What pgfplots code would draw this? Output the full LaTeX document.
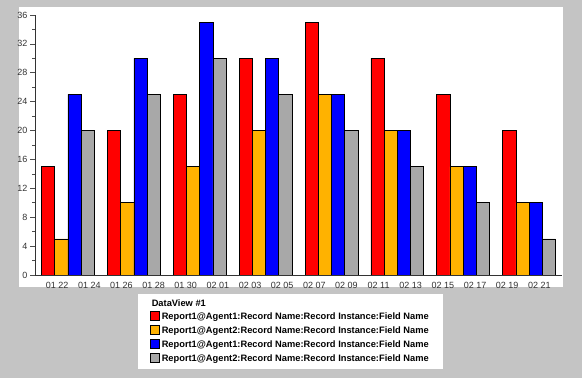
\documentclass[border=0pt]{standalone}
\usepackage{pgfplots}
\pgfplotsset{compat=1.18}
\usepackage{fontspec}
\setmainfont{Liberation Sans}
\definecolor{bg}{RGB}{196,196,196}
\definecolor{cred}{RGB}{255,0,0}
\definecolor{corange}{RGB}{255,178,0}
\definecolor{cblue}{RGB}{0,0,255}
\definecolor{cgray}{RGB}{168,168,168}
\begin{document}
\begin{tikzpicture}
\fill[bg] (0,0) rectangle (582pt,378pt);
\fill[white] (19pt,91pt) rectangle (563pt,371pt);
\begin{axis}[
  at={(35pt,103pt)}, anchor=south west,
  scale only axis, width=527pt, height=260pt,
  xmin=-0.5, xmax=7.5, ymin=0, ymax=36,
  ybar=0pt, bar width=13.2pt,
  axis lines*=left,
  axis line style={black!80, line width=0.7pt},
  ytick={0,4,...,36}, minor ytick={2,6,...,34},
  major tick length=5pt, minor tick length=3pt,
  ytick style={black!70, line width=0.6pt},
  tick align=outside,
  xtick={-0.164,0.324,0.812,1.300,1.788,2.276,2.764,3.252,3.740,4.228,4.716,5.204,5.692,6.180,6.668,7.156},
  xticklabels={01 22,01 24,01 26,01 28,01 30,02 01,02 03,02 05,02 07,02 09,02 11,02 13,02 15,02 17,02 19,02 21},
  xtick style={draw=none},
  ticklabel style={font=\fontsize{9}{10}\selectfont, black!80},
  xticklabel style={yshift=1pt},
  yticklabel style={xshift=1pt},
  /pgf/number format/assume math mode=true,
  legend style={at={(0.1954,-0.0704)}, anchor=north west, fill=white, draw=none,
    font=\fontsize{9.3}{10}\selectfont\bfseries, inner xsep=12pt, inner ysep=3.8pt,
    row sep=1.6pt, cells={anchor=west}},
  legend image code/.code={\draw[#1,/tikz/.cd,draw=black,line width=0.6pt] (0pt,-3.2pt) rectangle (9pt,5.6pt);},
]
\addlegendimage{empty legend}
\addlegendentry{\hspace{-10pt}DataView \#1}
\addplot[fill=cred, draw=black, line width=0.6pt] coordinates {(0,15) (1,20) (2,25) (3,30) (4,35) (5,30) (6,25) (7,20)};
\addlegendentry{Report1@Agent1:Record Name:Record Instance:Field Name}
\addplot[fill=corange, draw=black, line width=0.6pt] coordinates {(0,5) (1,10) (2,15) (3,20) (4,25) (5,20) (6,15) (7,10)};
\addlegendentry{Report1@Agent2:Record Name:Record Instance:Field Name}
\addplot[fill=cblue, draw=black, line width=0.6pt] coordinates {(0,25) (1,30) (2,35) (3,30) (4,25) (5,20) (6,15) (7,10)};
\addlegendentry{Report1@Agent1:Record Name:Record Instance:Field Name}
\addplot[fill=cgray, draw=black, line width=0.6pt] coordinates {(0,20) (1,25) (2,30) (3,25) (4,20) (5,15) (6,10) (7,5)};
\addlegendentry{Report1@Agent2:Record Name:Record Instance:Field Name}
\end{axis}
\end{tikzpicture}
\end{document}
